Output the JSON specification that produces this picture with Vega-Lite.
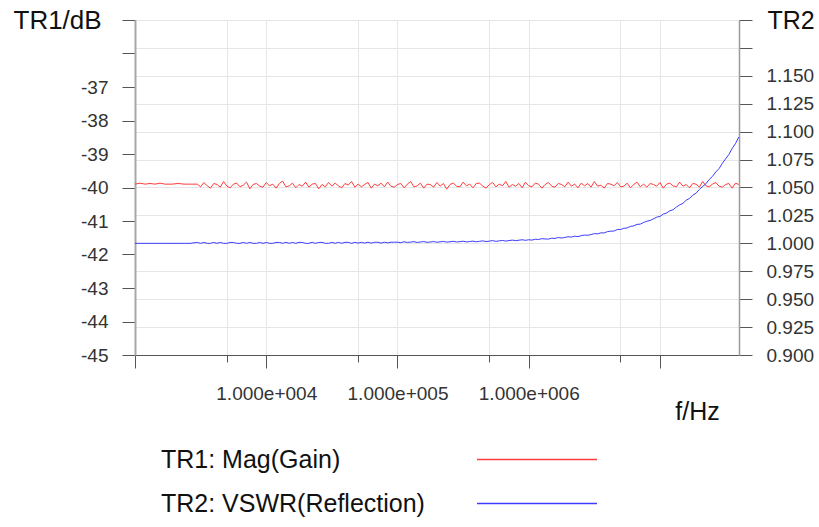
{
  "$schema": "https://vega.github.io/schema/vega-lite/v6.json",
  "width": 604,
  "height": 335,
  "autosize": "none",
  "padding": {"left": 135, "top": 20, "right": 80, "bottom": 172},
  "background": "white",
  "config": {
    "font": "Liberation Sans",
    "view": {"stroke": "#9a9a9a", "strokeWidth": 1},
    "axis": {"labelFont": "Liberation Sans", "titleFont": "Liberation Sans", "labelColor": "#333333", "titleColor": "#111111", "titleFontWeight": "normal", "labelFontSize": 19, "titleFontSize": 25}
  },
  "data": {"values": [
    {"f":1000,"g":-39.90,"v":1.0000},{"f":1092,"g":-39.87,"v":1.0000},{"f":1192,"g":-39.90,"v":1.0000},{"f":1302,"g":-39.88,"v":1.0000},{"f":1421,"g":-39.90,"v":1.0000},{"f":1552,"g":-39.87,"v":1.0000},{"f":1695,"g":-39.90,"v":1.0000},{"f":1915,"g":-39.90,"v":1.0000},{"f":2129,"g":-39.88,"v":1.0000},{"f":2367,"g":-39.90,"v":1.0000},{"f":2628,"g":-39.90,"v":1.0000},
    {"f":2985,"g":-39.90,"v":1.0008},{"f":3162,"g":-39.98,"v":1.0000},{"f":3350,"g":-39.85,"v":1.0008},{"f":3548,"g":-39.95,"v":1.0000},{"f":3758,"g":-40.02,"v":1.0000},{"f":3981,"g":-39.88,"v":1.0008},{"f":4217,"g":-39.91,"v":1.0000},{"f":4467,"g":-39.99,"v":1.0008},{"f":4732,"g":-39.82,"v":1.0000},{"f":5012,"g":-39.96,"v":1.0000},{"f":5309,"g":-40.01,"v":1.0008},{"f":5623,"g":-39.90,"v":1.0008},{"f":5957,"g":-39.87,"v":1.0000},{"f":6310,"g":-39.98,"v":1.0000},{"f":6683,"g":-39.93,"v":1.0008},{"f":7079,"g":-39.84,"v":1.0000},{"f":7499,"g":-40.04,"v":1.0008},{"f":7943,"g":-39.91,"v":1.0000},{"f":8414,"g":-39.88,"v":1.0000},{"f":8913,"g":-39.96,"v":1.0008},{"f":9441,"g":-39.99,"v":1.0000},
    {"f":10000,"g":-39.85,"v":1.0008},{"f":10593,"g":-39.95,"v":1.0000},{"f":11220,"g":-39.90,"v":1.0000},{"f":11885,"g":-40.02,"v":1.0008},{"f":12589,"g":-39.88,"v":1.0008},{"f":13335,"g":-39.81,"v":1.0000},{"f":14125,"g":-39.98,"v":1.0009},{"f":14962,"g":-39.95,"v":1.0000},{"f":15849,"g":-39.87,"v":1.0008},{"f":16788,"g":-40.01,"v":1.0000},{"f":17783,"g":-39.91,"v":1.0009},{"f":18836,"g":-39.96,"v":1.0008},{"f":19953,"g":-39.84,"v":1.0000},{"f":21135,"g":-39.99,"v":1.0000},{"f":22387,"g":-39.90,"v":1.0009},{"f":23714,"g":-39.88,"v":1.0000},{"f":25119,"g":-40.04,"v":1.0008},{"f":26607,"g":-39.91,"v":1.0009},{"f":28184,"g":-39.98,"v":1.0000},{"f":29854,"g":-39.85,"v":1.0000},{"f":31623,"g":-39.96,"v":1.0009},{"f":33497,"g":-39.87,"v":1.0000},{"f":35481,"g":-39.95,"v":1.0009},{"f":37584,"g":-40.01,"v":1.0000},{"f":39811,"g":-39.88,"v":1.0009},{"f":42170,"g":-39.93,"v":1.0009},{"f":44668,"g":-39.82,"v":1.0000},{"f":47315,"g":-39.99,"v":1.0009},{"f":50119,"g":-39.90,"v":1.0002},{"f":53088,"g":-39.98,"v":1.0009},{"f":56234,"g":-39.91,"v":1.0002},{"f":59566,"g":-39.85,"v":1.0010},{"f":63096,"g":-40.02,"v":1.0002},{"f":66834,"g":-39.90,"v":1.0009},{"f":70795,"g":-39.95,"v":1.0010},{"f":74989,"g":-39.87,"v":1.0002},{"f":79433,"g":-39.98,"v":1.0010},{"f":84140,"g":-39.84,"v":1.0004},{"f":89125,"g":-39.96,"v":1.0010},{"f":94406,"g":-39.99,"v":1.0010},
    {"f":100000,"g":-39.91,"v":1.0010},{"f":105930,"g":-39.88,"v":1.0006},{"f":112200,"g":-40.01,"v":1.0014},{"f":118850,"g":-39.90,"v":1.0008},{"f":125890,"g":-39.82,"v":1.0011},{"f":133350,"g":-39.98,"v":1.0015},{"f":141250,"g":-39.95,"v":1.0008},{"f":149620,"g":-39.87,"v":1.0012},{"f":158490,"g":-40.02,"v":1.0016},{"f":167880,"g":-39.90,"v":1.0009},{"f":177830,"g":-39.91,"v":1.0012},{"f":188360,"g":-39.99,"v":1.0016},{"f":199530,"g":-39.85,"v":1.0010},{"f":211350,"g":-39.96,"v":1.0013},{"f":223870,"g":-39.88,"v":1.0017},{"f":237140,"g":-40.05,"v":1.0011},{"f":251190,"g":-39.91,"v":1.0014},{"f":266070,"g":-39.87,"v":1.0018},{"f":281840,"g":-39.96,"v":1.0012},{"f":298540,"g":-39.98,"v":1.0015},{"f":316230,"g":-39.84,"v":1.0019},{"f":334970,"g":-39.95,"v":1.0013},{"f":354810,"g":-39.90,"v":1.0016},{"f":375840,"g":-40.01,"v":1.0020},{"f":398110,"g":-39.88,"v":1.0014},{"f":421700,"g":-39.87,"v":1.0018},{"f":446680,"g":-39.96,"v":1.0022},{"f":473150,"g":-40.02,"v":1.0016},{"f":501190,"g":-39.91,"v":1.0020},{"f":530880,"g":-39.85,"v":1.0024},{"f":562340,"g":-39.98,"v":1.0018},{"f":595660,"g":-39.90,"v":1.0022},{"f":630960,"g":-39.95,"v":1.0026},{"f":668340,"g":-39.82,"v":1.0020},{"f":707950,"g":-39.99,"v":1.0025},{"f":749890,"g":-39.91,"v":1.0029},{"f":794330,"g":-39.96,"v":1.0024},{"f":841400,"g":-39.88,"v":1.0028},{"f":891250,"g":-40.01,"v":1.0032},{"f":944060,"g":-39.84,"v":1.0027},
    {"f":1000000,"g":-39.95,"v":1.0032},{"f":1059300,"g":-39.98,"v":1.0029},{"f":1122000,"g":-39.87,"v":1.0037},{"f":1188500,"g":-39.90,"v":1.0034},{"f":1258900,"g":-40.02,"v":1.0042},{"f":1333500,"g":-39.91,"v":1.0039},{"f":1412500,"g":-39.85,"v":1.0038},{"f":1496200,"g":-39.96,"v":1.0046},{"f":1584900,"g":-39.99,"v":1.0044},{"f":1678800,"g":-39.88,"v":1.0052},{"f":1778300,"g":-39.91,"v":1.0047},{"f":1883600,"g":-39.98,"v":1.0053},{"f":1995300,"g":-39.84,"v":1.0059},{"f":2113500,"g":-39.96,"v":1.0056},{"f":2238700,"g":-39.90,"v":1.0064},{"f":2371400,"g":-40.01,"v":1.0060},{"f":2511900,"g":-39.87,"v":1.0069},{"f":2660700,"g":-39.95,"v":1.0074},{"f":2818400,"g":-39.88,"v":1.0072},{"f":2985400,"g":-39.99,"v":1.0079},{"f":3162300,"g":-39.82,"v":1.0087},{"f":3349700,"g":-39.96,"v":1.0085},{"f":3548100,"g":-39.93,"v":1.0094},{"f":3758400,"g":-40.02,"v":1.0093},{"f":3981100,"g":-39.88,"v":1.0105},{"f":4217000,"g":-39.90,"v":1.0109},{"f":4466800,"g":-39.95,"v":1.0110},{"f":4731500,"g":-39.85,"v":1.0124},{"f":5011900,"g":-39.98,"v":1.0124},{"f":5308800,"g":-39.96,"v":1.0135},{"f":5623400,"g":-39.87,"v":1.0138},{"f":5956600,"g":-40.01,"v":1.0152},{"f":6309600,"g":-39.91,"v":1.0156},{"f":6683400,"g":-39.84,"v":1.0170},{"f":7079500,"g":-39.98,"v":1.0172},{"f":7498900,"g":-39.90,"v":1.0187},{"f":7943300,"g":-39.99,"v":1.0198},{"f":8414000,"g":-39.88,"v":1.0205},{"f":8912500,"g":-39.91,"v":1.0219},{"f":9440600,"g":-39.96,"v":1.0234},
    {"f":10000000,"g":-39.85,"v":1.0241},{"f":10593000,"g":-40.02,"v":1.0262},{"f":11220000,"g":-39.90,"v":1.0271},{"f":11885000,"g":-39.87,"v":1.0291},{"f":12589000,"g":-39.95,"v":1.0301},{"f":13335000,"g":-39.98,"v":1.0325},{"f":14125000,"g":-39.84,"v":1.0344},{"f":14962000,"g":-39.96,"v":1.0358},{"f":15849000,"g":-39.91,"v":1.0386},{"f":16788000,"g":-40.01,"v":1.0402},{"f":17783000,"g":-39.88,"v":1.0431},{"f":18836000,"g":-39.90,"v":1.0449},{"f":19953000,"g":-39.99,"v":1.0482},{"f":21135000,"g":-39.82,"v":1.0509},{"f":22387000,"g":-39.95,"v":1.0533},{"f":23714000,"g":-39.98,"v":1.0572},{"f":25119000,"g":-39.90,"v":1.0599},{"f":26607000,"g":-39.85,"v":1.0639},{"f":28184000,"g":-39.96,"v":1.0669},{"f":29854000,"g":-39.99,"v":1.0716},{"f":31623000,"g":-39.91,"v":1.0756},{"f":33497000,"g":-39.88,"v":1.0796},{"f":35481000,"g":-40.02,"v":1.0849},{"f":37584000,"g":-39.87,"v":1.0893},{"f":39811000,"g":-39.91,"v":1.0951}
  ]},
  "encoding": {
    "x": {
      "field": "f", "type": "quantitative",
      "scale": {"type": "log", "domain": [1000, 40000000]},
      "axis": {
        "values": [1000, 5000, 10000, 50000, 100000, 500000, 1000000, 5000000, 10000000],
        "labelExpr": "datum.value == 10000 ? '1.000e+004' : datum.value == 100000 ? '1.000e+005' : datum.value == 1000000 ? '1.000e+006' : ''",
        "tickSize": {"condition": {"test": "datum.value == 1000 || datum.value == 10000 || datum.value == 100000 || datum.value == 1000000 || datum.value == 10000000", "value": 13}, "value": 7},
        "tickColor": "#555555",
        "domainColor": "#555555",
        "domainWidth": 1,
        "labelPadding": 16,
        "labelFlush": false,
        "labelOverlap": false,
        "grid": true, "gridColor": "#e6e6e6", "gridWidth": 1,
        "title": "f/Hz",
        "titleX": 562, "titleY": 56, "titleAlign": "center", "titleBaseline": "middle", "titleAnchor": null
      }
    }
  },
  "layer": [
    {
      "mark": {"type": "line", "strokeWidth": 1, "clip": true},
      "encoding": {
        "y": {
          "field": "g", "type": "quantitative",
          "scale": {"domain": [-45, -35], "nice": false, "zero": false},
          "axis": {
            "orient": "left",
            "values": [-45, -44, -43, -42, -41, -40, -39, -38, -37, -36, -35],
            "labelExpr": "datum.value > -36.5 ? '' : '-' + abs(datum.value)",
            "tickSize": 13, "tickColor": "#555555",
            "domainColor": "#a8a8a8", "domainWidth": 2,
            "labelPadding": 14,
            "labelFlush": false, "labelOverlap": false,
            "grid": false,
            "title": "TR1/dB", "titleAngle": 0, "titleAlign": "left", "titleBaseline": "middle",
            "titleX": -122, "titleY": 0, "titleFontSize": 26
          }
        },
        "color": {
          "datum": "TR1: Mag(Gain)",
          "type": "nominal",
          "scale": {"domain": ["TR1: Mag(Gain)", "TR2: VSWR(Reflection)"], "range": ["#ff3c3c", "#3c3cff"]},
          "legend": {
            "orient": "none", "legendX": 26, "legendY": 427, "direction": "vertical",
            "title": null, "padding": 0,
            "symbolType": "M-10,0H10", "symbolSize": 144, "symbolStrokeWidth": 1.5,
            "symbolOffset": 363.5, "labelOffset": -388.5, "labelAlign": "left",
            "labelFontSize": 25, "labelFont": "Liberation Sans", "labelColor": "#111111", "labelLimit": 500,
            "rowPadding": 18
          }
        }
      }
    },
    {
      "mark": {"type": "line", "strokeWidth": 1, "clip": true},
      "encoding": {
        "y": {
          "field": "v", "type": "quantitative",
          "scale": {"domain": [0.9, 1.2], "nice": false, "zero": false},
          "axis": {
            "orient": "right",
            "values": [0.9, 0.925, 0.95, 0.975, 1.0, 1.025, 1.05, 1.075, 1.1, 1.125, 1.15, 1.175, 1.2],
            "labelExpr": "datum.value > 1.16 ? '' : format(datum.value, '.3f')",
            "tickSize": 13, "tickColor": "#555555",
            "domainColor": "#9a9a9a", "domainWidth": 1.5,
            "labelPadding": 14,
            "labelFlush": false, "labelOverlap": false,
            "grid": true, "gridColor": "#e6e6e6", "gridWidth": 1,
            "title": "TR2", "titleAngle": 0, "titleAlign": "left", "titleBaseline": "middle",
            "titleX": 28, "titleY": 0, "titleFontSize": 25
          }
        },
        "color": {"datum": "TR2: VSWR(Reflection)", "type": "nominal"}
      }
    }
  ],
  "resolve": {"scale": {"y": "independent"}}
}
